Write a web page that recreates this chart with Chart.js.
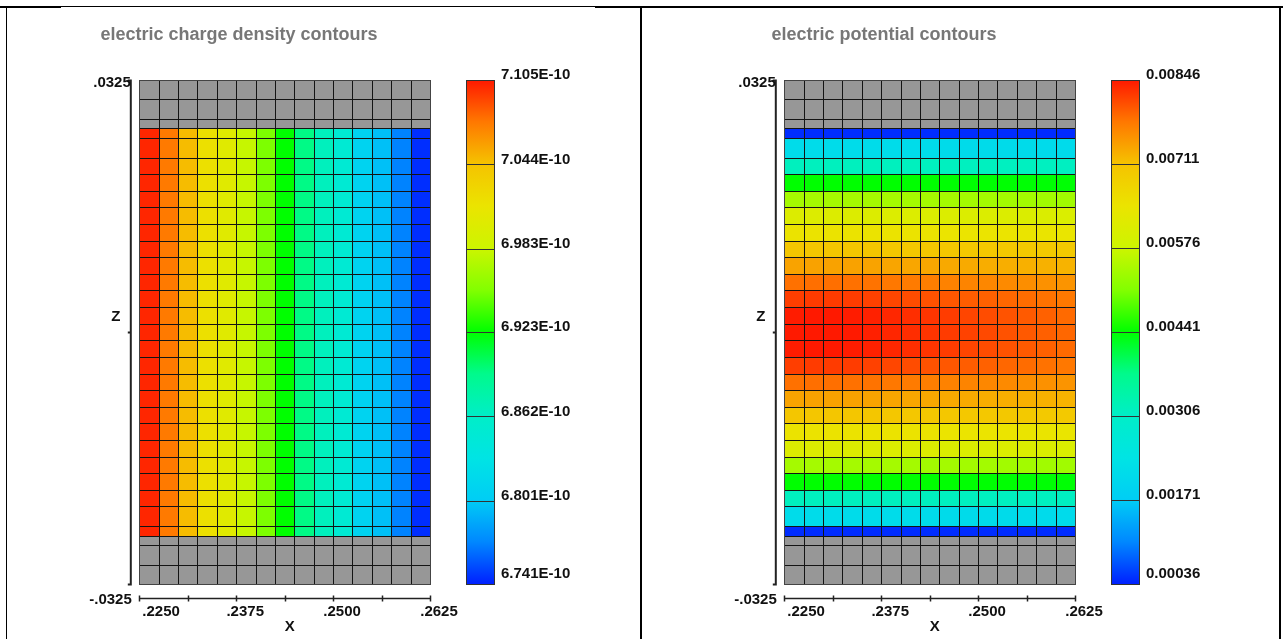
<!DOCTYPE html>
<html>
<head>
<meta charset="utf-8">
<script src="https://cdn.jsdelivr.net/npm/chart.js@4.4.1/dist/chart.umd.min.js"></script>
<style>
  html, body { margin: 0; padding: 0; background: #fff; }
  body { width: 1283px; height: 639px; position: relative; overflow: hidden; }
  .rule { position: absolute; background: #000; }
  canvas { position: absolute; }
</style>
</head>
<body>
<div class="rule" style="left:0;top:6px;width:61px;height:2px"></div>
<div class="rule" style="left:61px;top:6px;width:534px;height:1px"></div>
<div class="rule" style="left:595px;top:6px;width:688px;height:2px"></div>
<div class="rule" style="left:6px;top:6px;width:1px;height:633px"></div>
<div class="rule" style="left:640px;top:6px;width:2px;height:633px"></div>
<div class="rule" style="left:1279px;top:6px;width:2px;height:633px"></div>
<canvas id="rho" width="630" height="632" style="left:7px;top:7px;width:630px;height:632px"></canvas>
<canvas id="phi" width="630" height="632" style="left:652px;top:7px;width:630px;height:632px"></canvas>
<script>
// ---- mesh (cell edges) ----
const xEdges = [0.2250, 0.2275, 0.2300, 0.2325, 0.2350, 0.2375, 0.2400, 0.2425,
                0.2450, 0.2475, 0.2500, 0.2525, 0.2550, 0.2575, 0.2600, 0.2625];
const zEdges = [0.0325, 0.0300, 0.0275, 0.02625, 0.0250, 0.0225,
                0.020357, 0.018214, 0.016071, 0.013929, 0.011786, 0.009643, 0.0075,
                0.005357, 0.003214, 0.001071, -0.001071, -0.003214, -0.005357,
                -0.0075, -0.009643, -0.011786, -0.013929, -0.016071, -0.018214,
                -0.020357, -0.0225, -0.0250, -0.02625, -0.0275, -0.0300, -0.0325];
const grayTop = 3, grayBottom = 3;   // inactive rows above/below the active region

// ---- axes ----
const xTicks = [0.2250, 0.23125, 0.2375, 0.24375, 0.2500, 0.25625, 0.2625];
const xLabels = [0.2250, 0.2375, 0.2500, 0.2625];
const zTicks = [0.0325, 0, -0.0325];

// ---- electric charge density (varies along x only) ----
const chargeCols = [7.101e-10, 7.074e-10, 7.047e-10, 7.018e-10, 7.003e-10, 6.981e-10, 6.952e-10,
                    6.923e-10, 6.894e-10, 6.868e-10, 6.850e-10, 6.810e-10, 6.796e-10, 6.770e-10, 6.745e-10];
const chargeLevels = [6.741e-10, 6.801e-10, 6.862e-10, 6.923e-10, 6.983e-10, 7.044e-10, 7.105e-10];

// ---- electric potential, rows top (z high) to bottom ----
const potentialRows = [
  [0.00044,0.00044,0.00044,0.00044,0.00044,0.00044,0.00044,0.00044,0.00044,0.00044,0.00044,0.00044,0.00044,0.00043,0.00043],
  [0.00214,0.00214,0.00214,0.00214,0.00214,0.00214,0.00214,0.00214,0.00213,0.00213,0.00213,0.00213,0.00213,0.00212,0.00212],
  [0.00317,0.00317,0.00317,0.00317,0.00317,0.00317,0.00317,0.00316,0.00316,0.00316,0.00316,0.00315,0.00315,0.00315,0.00314],
  [0.00441,0.00441,0.00441,0.00441,0.00441,0.00441,0.00441,0.00441,0.00440,0.00440,0.00440,0.00440,0.00439,0.00439,0.00439],
  [0.00540,0.00540,0.00540,0.00540,0.00540,0.00540,0.00539,0.00539,0.00539,0.00538,0.00538,0.00537,0.00537,0.00536,0.00536],
  [0.00610,0.00610,0.00610,0.00610,0.00610,0.00609,0.00609,0.00609,0.00608,0.00608,0.00607,0.00607,0.00606,0.00606,0.00605],
  [0.00646,0.00646,0.00646,0.00646,0.00646,0.00645,0.00645,0.00645,0.00644,0.00644,0.00643,0.00643,0.00642,0.00642,0.00641],
  [0.00704,0.00704,0.00704,0.00704,0.00704,0.00703,0.00703,0.00702,0.00702,0.00701,0.00701,0.00700,0.00699,0.00699,0.00698],
  [0.00740,0.00741,0.00741,0.00741,0.00740,0.00738,0.00737,0.00736,0.00734,0.00733,0.00731,0.00730,0.00728,0.00727,0.00725],
  [0.00784,0.00785,0.00785,0.00784,0.00782,0.00779,0.00776,0.00773,0.00770,0.00768,0.00765,0.00762,0.00759,0.00756,0.00753],
  [0.00820,0.00822,0.00822,0.00821,0.00818,0.00814,0.00810,0.00806,0.00802,0.00798,0.00795,0.00791,0.00787,0.00783,0.00779],
  [0.00844,0.00846,0.00846,0.00844,0.00840,0.00836,0.00831,0.00826,0.00821,0.00815,0.00810,0.00805,0.00800,0.00795,0.00789],
  [0.00845,0.00846,0.00846,0.00845,0.00841,0.00837,0.00832,0.00827,0.00822,0.00817,0.00812,0.00806,0.00801,0.00796,0.00791],
  [0.00844,0.00846,0.00846,0.00844,0.00840,0.00836,0.00831,0.00826,0.00821,0.00815,0.00810,0.00805,0.00800,0.00795,0.00789],
  [0.00820,0.00822,0.00822,0.00821,0.00818,0.00814,0.00810,0.00806,0.00802,0.00798,0.00795,0.00791,0.00787,0.00783,0.00779],
  [0.00784,0.00785,0.00785,0.00784,0.00782,0.00779,0.00776,0.00773,0.00770,0.00768,0.00765,0.00762,0.00759,0.00756,0.00753],
  [0.00740,0.00741,0.00741,0.00741,0.00740,0.00738,0.00737,0.00736,0.00734,0.00733,0.00731,0.00730,0.00728,0.00727,0.00725],
  [0.00704,0.00704,0.00704,0.00704,0.00704,0.00703,0.00703,0.00702,0.00702,0.00701,0.00701,0.00700,0.00699,0.00699,0.00698],
  [0.00646,0.00646,0.00646,0.00646,0.00646,0.00645,0.00645,0.00645,0.00644,0.00644,0.00643,0.00643,0.00642,0.00642,0.00641],
  [0.00610,0.00610,0.00610,0.00610,0.00610,0.00609,0.00609,0.00609,0.00608,0.00608,0.00607,0.00607,0.00606,0.00606,0.00605],
  [0.00540,0.00540,0.00540,0.00540,0.00540,0.00540,0.00539,0.00539,0.00539,0.00538,0.00538,0.00537,0.00537,0.00536,0.00536],
  [0.00441,0.00441,0.00441,0.00441,0.00441,0.00441,0.00441,0.00441,0.00440,0.00440,0.00440,0.00440,0.00439,0.00439,0.00439],
  [0.00317,0.00317,0.00317,0.00317,0.00317,0.00317,0.00317,0.00316,0.00316,0.00316,0.00316,0.00315,0.00315,0.00315,0.00314],
  [0.00214,0.00214,0.00214,0.00214,0.00214,0.00214,0.00214,0.00214,0.00213,0.00213,0.00213,0.00213,0.00213,0.00212,0.00212],
  [0.00044,0.00044,0.00044,0.00044,0.00044,0.00044,0.00044,0.00044,0.00044,0.00044,0.00044,0.00044,0.00044,0.00043,0.00043]
];
const potentialLevels = [0.00036, 0.00171, 0.00306, 0.00441, 0.00576, 0.00711, 0.00846];

// ---- style ----
const FONT = '"Liberation Sans", Arial, Helvetica, sans-serif';
const GRAY_CELL = '#979797';
const COLOR_STOPS = [
  [0.000, [0, 32, 255]], [0.083, [0, 135, 255]], [0.167, [0, 205, 245]],
  [0.250, [0, 228, 228]], [0.333, [0, 238, 200]], [0.417, [0, 250, 140]],
  [0.500, [0, 255, 0]],   [0.583, [130, 255, 0]], [0.667, [205, 245, 0]],
  [0.750, [235, 228, 0]], [0.833, [245, 195, 0]], [0.917, [255, 120, 0]],
  [1.000, [255, 25, 0]]
];

function colorAt(t) {
  t = Math.max(0, Math.min(1, t));
  for (let i = 1; i < COLOR_STOPS.length; i++) {
    const [t1, c1] = COLOR_STOPS[i];
    const [t0, c0] = COLOR_STOPS[i - 1];
    if (t <= t1) {
      const f = (t - t0) / (t1 - t0);
      const c = c0.map((v, k) => Math.round(v + (c1[k] - v) * f));
      return `rgb(${c[0]},${c[1]},${c[2]})`;
    }
  }
  return 'rgb(255,25,0)';
}

function contourPlugin(cells, levels, fmt) {
  return {
    id: 'contour',
    afterDraw(chart) {
      const { ctx, chartArea: area, scales: { x, y, c } } = chart;
      const lo = levels[0], hi = levels[levels.length - 1];
      const nRows = zEdges.length - 1;
      ctx.save();

      // cells
      for (let i = 0; i < nRows; i++) {
        const y0 = Math.round(y.getPixelForValue(zEdges[i]));
        const y1 = Math.round(y.getPixelForValue(zEdges[i + 1]));
        const active = i >= grayTop && i < nRows - grayBottom;
        for (let j = 0; j < xEdges.length - 1; j++) {
          const x0 = Math.round(x.getPixelForValue(xEdges[j]));
          const x1 = Math.round(x.getPixelForValue(xEdges[j + 1]));
          ctx.fillStyle = active ? colorAt((cells[i - grayTop][j] - lo) / (hi - lo)) : GRAY_CELL;
          ctx.fillRect(x0, y0, x1 - x0, y1 - y0);
        }
      }

      // mesh lines
      const gl = x.getPixelForValue(xEdges[0]), gr = x.getPixelForValue(xEdges[xEdges.length - 1]);
      const gt = y.getPixelForValue(zEdges[0]), gb = y.getPixelForValue(zEdges[zEdges.length - 1]);
      ctx.strokeStyle = '#141414';
      ctx.lineWidth = 1;
      ctx.beginPath();
      xEdges.forEach(v => {
        const p = Math.round(x.getPixelForValue(v)) + 0.5;
        ctx.moveTo(p, Math.round(gt)); ctx.lineTo(p, Math.round(gb) + 1);
      });
      zEdges.forEach(v => {
        const p = Math.round(y.getPixelForValue(v)) + 0.5;
        ctx.moveTo(Math.round(gl), p); ctx.lineTo(Math.round(gr) + 1, p);
      });
      ctx.stroke();
      ctx.strokeStyle = '#444';
      ctx.strokeRect(Math.round(gl) + 0.5, Math.round(gt) + 0.5, Math.round(gr) - Math.round(gl), Math.round(gb) - Math.round(gt));

      ctx.fillStyle = '#111';
      ctx.font = `bold 15px ${FONT}`;
      ctx.textBaseline = 'middle';

      // x axis (offset below the mesh)
      const ax = area.bottom + 14.5;
      ctx.strokeStyle = '#222';
      ctx.lineWidth = 1.5;
      ctx.beginPath();
      ctx.moveTo(gl, ax); ctx.lineTo(gr, ax);
      xTicks.forEach(v => {
        const p = Math.round(x.getPixelForValue(v)) + 0.5;
        ctx.moveTo(p, ax - 3); ctx.lineTo(p, ax + 3);
      });
      ctx.stroke();
      ctx.textAlign = 'left';
      xLabels.forEach(v => {
        const txt = v.toFixed(4).replace(/^0/, '');
        const w = ctx.measureText(txt).width;
        const left = Math.max(x.getPixelForValue(v) + 9 - w / 2, gl + 3);
        ctx.fillText(txt, left, ax + 13);
      });
      ctx.textAlign = 'center';
      ctx.fillText('X', (gl + gr) / 2 + 5, ax + 28.5);

      // z axis (offset left of the mesh)
      const ay = area.left - 8.5;
      ctx.lineWidth = 2;
      ctx.beginPath();
      ctx.moveTo(ay, gt); ctx.lineTo(ay, gb);
      zTicks.forEach(v => {
        const p = Math.round(y.getPixelForValue(v)) + 0.5;
        ctx.moveTo(ay - 3, p); ctx.lineTo(ay + 1, p);
      });
      ctx.stroke();
      ctx.textAlign = 'right';
      ctx.fillText(zTicks[0].toFixed(4).replace(/^0/, ''), ay, gt + 3);
      ctx.fillText(zTicks[2].toFixed(4).replace(/^-0/, '-'), ay + 1, ax + 1);
      ctx.textAlign = 'center';
      ctx.fillText('Z', ay - 15, y.getPixelForValue(zTicks[1]) - 15);

      // colour bar
      const bx = area.right + 36, bw = 28;
      const top = c.getPixelForValue(hi), bot = c.getPixelForValue(lo);
      const grad = ctx.createLinearGradient(0, bot, 0, top);
      COLOR_STOPS.forEach(([t, col]) => grad.addColorStop(t, `rgb(${col[0]},${col[1]},${col[2]})`));
      ctx.fillStyle = grad;
      ctx.fillRect(bx, top, bw, bot - top);
      ctx.strokeStyle = '#333';
      ctx.lineWidth = 1;
      ctx.beginPath();
      levels.forEach(v => {
        const p = Math.round(c.getPixelForValue(v)) + 0.5;
        ctx.moveTo(bx, p); ctx.lineTo(bx + bw, p);
      });
      ctx.stroke();
      ctx.strokeRect(bx + 0.5, Math.round(top) + 0.5, bw, Math.round(bot - top));
      ctx.fillStyle = '#111';
      ctx.textAlign = 'left';
      levels.forEach(v => {
        const p = c.getPixelForValue(v);
        ctx.fillText(fmt(v), bx + bw + 7, Math.min(p - 5, bot - 10));
      });
      ctx.restore();
    }
  };
}

function contourChart(id, title, cells, levels, fmt) {
  return new Chart(document.getElementById(id), {
    type: 'scatter',
    data: { datasets: [] },
    options: {
      responsive: false, animation: false, events: [],
      layout: { padding: { left: 41, right: 207, top: 0, bottom: 55 } },
      plugins: {
        legend: { display: false },
        tooltip: { enabled: false },
        title: {
          display: true, text: title, align: 'center', color: '#777777',
          font: { family: FONT, size: 18, weight: 'bold' },
          padding: { top: 17, bottom: 34.4 }
        }
      },
      scales: {
        x: { type: 'linear', min: xEdges[0], max: xEdges[xEdges.length - 1], display: false },
        y: {
          type: 'linear', min: zEdges[zEdges.length - 1], max: zEdges[0],
          ticks: { display: false }, grid: { display: false }, border: { display: false },
          afterFit: s => { s.width = 91.3; }
        },
        c: { type: 'linear', axis: 'y', min: levels[0], max: levels[levels.length - 1], display: false }
      }
    },
    plugins: [contourPlugin(cells, levels, fmt)]
  });
}

const chargeCells = zEdges.slice(grayTop + 1, zEdges.length - grayBottom).map(() => chargeCols);

contourChart('rho', 'electric charge density contours', chargeCells, chargeLevels,
  v => v.toExponential(3).toUpperCase());
contourChart('phi', 'electric potential contours', potentialRows, potentialLevels,
  v => v.toFixed(5));
</script>
</body>
</html>
